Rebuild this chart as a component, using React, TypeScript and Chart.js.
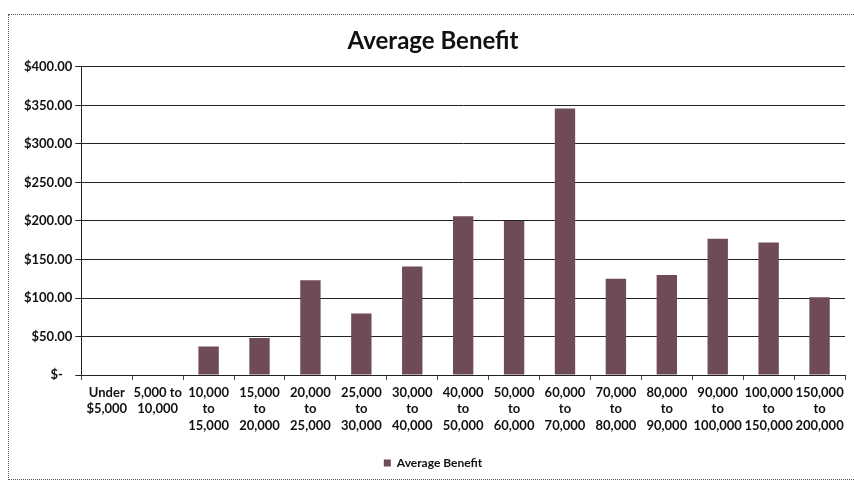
import React, { useEffect, useRef } from "react";
import { Chart, registerables } from "chart.js";

Chart.register(...registerables);

const chartTitle = "Average Benefit";
const seriesName = "Average Benefit";

const categories: string[][] = [
  ["Under", "$5,000"],
  ["5,000 to", "10,000"],
  ["10,000", "to", "15,000"],
  ["15,000", "to", "20,000"],
  ["20,000", "to", "25,000"],
  ["25,000", "to", "30,000"],
  ["30,000", "to", "40,000"],
  ["40,000", "to", "50,000"],
  ["50,000", "to", "60,000"],
  ["60,000", "to", "70,000"],
  ["70,000", "to", "80,000"],
  ["80,000", "to", "90,000"],
  ["90,000", "to", "100,000"],
  ["100,000", "to", "150,000"],
  ["150,000", "to", "200,000"],
];

const averageBenefit: number[] = [0, 0, 37, 48, 123, 80, 141, 206, 200, 346, 125, 130, 177, 172, 101];

const yMin = 0;
const yMax = 400;
const yStep = 50;

const FONT = "Lato, 'Open Sans', sans-serif";

export default function App() {
  const ref = useRef<HTMLCanvasElement | null>(null);

  useEffect(() => {
    if (!ref.current) return;
    const chart = new Chart(ref.current, {
      type: "bar",
      data: {
        labels: categories,
        datasets: [
          {
            label: seriesName,
            data: averageBenefit,
            backgroundColor: "#6e4b56",
            borderWidth: 0,
            barPercentage: 0.4,
            categoryPercentage: 1,
          },
        ],
      },
      options: {
        responsive: false,
        animation: false,
        devicePixelRatio: 1,
        layout: { padding: { left: 12, right: 34, top: 0, bottom: 0 } },
        plugins: {
          title: {
            display: true,
            text: chartTitle,
            color: "#111",
            font: { family: FONT, size: 24, weight: "bold" },
            padding: { top: 12, bottom: 11 },
          },
          legend: {
            display: true,
            position: "bottom",
            labels: {
              color: "#111",
              boxWidth: 7,
              boxHeight: 7,
              padding: 6,
              font: { family: FONT, size: 12, weight: "bold" },
            },
          },
          tooltip: { enabled: false },
        },
        scales: {
          x: {
            type: "category",
            afterFit: (scale: any) => {
              scale.height += 13;
            },
            grid: {
              display: true,
              drawOnChartArea: false,
              offset: true,
              tickLength: 5,
              color: "#444",
            },
            border: { display: true, color: "#222", width: 1 },
            ticks: {
              maxRotation: 0,
              minRotation: 0,
              autoSkip: false,
              color: "#111",
              padding: 4,
              font: { family: FONT, size: 13, weight: "bold", lineHeight: 1.28 },
            },
          },
          y: {
            min: yMin,
            max: yMax,
            grid: {
              color: "#222",
              lineWidth: 1,
              tickLength: 6,
            },
            border: { display: true, color: "#222", width: 1 },
            ticks: {
              stepSize: yStep,
              color: "#111",
              padding: 3,
              font: { family: FONT, size: 13, weight: "bold" },
              callback: (v: any) => (Number(v) === 0 ? "$-   " : "$" + Number(v).toFixed(2)),
            },
          },
        },
      },
    });
    return () => chart.destroy();
  }, []);

  return (
    <div
      style={{
        position: "fixed",
        left: 0,
        top: 0,
        width: 854,
        height: 486,
        overflow: "hidden",
        background: "#fff",
      }}
    >
      <div
        style={{
          position: "absolute",
          left: 8,
          top: 14,
          width: 870,
          height: 464,
          border: "1px dotted #555",
        }}
      >
        <canvas ref={ref} width={870} height={464} style={{ display: "block" }} />
      </div>
    </div>
  );
}
